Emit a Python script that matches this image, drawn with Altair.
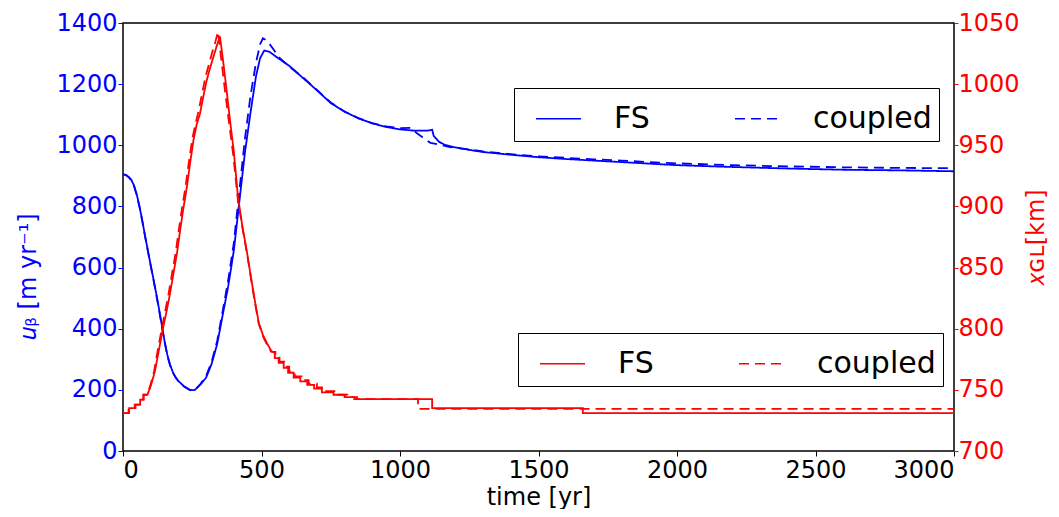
import altair as alt
import pandas as pd

SERIES = ["FS", "coupled"]
TIME_TICKS = [0, 500, 1000, 1500, 2000, 2500, 3000]
UB_TICKS = [0, 200, 400, 600, 800, 1000, 1200, 1400]
XGL_TICKS = [700, 750, 800, 850, 900, 950, 1000, 1050]

# basal velocity u_b [m/yr], (time, value)
UB_FS = [(0, 905), (10, 903), (20, 897), (30, 887), (40, 868), (50, 838), (60, 798), (70, 752),
         (80, 702), (90, 655), (100, 608), (110, 562), (120, 515), (130, 465), (140, 412),
         (150, 360), (160, 315), (170, 282), (180, 258), (190, 241), (200, 229), (220, 212),
         (240, 201), (250, 199), (260, 200), (280, 218), (300, 240), (320, 285), (340, 350),
         (360, 445), (380, 540), (400, 655), (420, 815), (440, 975), (460, 1105), (480, 1225),
         (495, 1285), (510, 1310), (530, 1305), (560, 1285), (600, 1260), (650, 1220), (700, 1180),
         (750, 1138), (800, 1110), (850, 1088), (900, 1072), (950, 1060), (1000, 1052),
         (1050, 1048), (1100, 1048), (1116, 1051), (1122, 1030), (1140, 1012), (1160, 1002),
         (1200, 993), (1250, 985), (1300, 978), (1400, 969), (1500, 961), (1600, 955), (1700, 950),
         (1800, 945), (1900, 940), (2000, 935), (2200, 929), (2400, 924), (2600, 920), (2800, 918),
         (3000, 915)]
UB_COUPLED = [(0, 905), (10, 903), (20, 896), (30, 886), (40, 866), (50, 836), (60, 796), (70, 750),
              (80, 700), (90, 653), (100, 606), (110, 560), (120, 512), (130, 462), (140, 409),
              (150, 357), (160, 312), (170, 280), (180, 256), (190, 240), (200, 228), (220, 211),
              (240, 200), (250, 198), (260, 200), (280, 220), (300, 245), (320, 292), (340, 360),
              (360, 458), (380, 560), (400, 680), (420, 850), (440, 1020), (460, 1160), (480, 1270),
              (495, 1330), (505, 1350), (515, 1345), (530, 1330), (545, 1312), (560, 1290),
              (600, 1258), (650, 1222), (700, 1181), (750, 1140), (800, 1110), (850, 1089),
              (900, 1072), (950, 1062), (1000, 1056), (1040, 1057), (1060, 1040), (1080, 1027),
              (1110, 1008), (1140, 1003), (1180, 994), (1250, 986), (1300, 980), (1400, 971),
              (1500, 964), (1600, 959), (1700, 954), (1800, 950), (1900, 945), (2000, 941),
              (2200, 935), (2400, 931), (2600, 928), (2800, 926), (3000, 925)]

# grounding line position x_GL [km], (time, value)
XGL_FS = [(0, 731), (22, 731), (22, 735), (45, 735), (45, 738), (62, 738), (62, 742), (75, 742),
          (75, 746), (88, 746), (100, 753), (115, 765), (130, 783), (144, 800), (158, 815),
          (170, 829), (182, 845), (195, 862), (206, 880), (217, 897), (230, 915), (242, 935),
          (255, 955), (266, 967), (278, 976), (290, 990), (302, 1003), (314, 1013), (326, 1022),
          (338, 1031), (350, 1039), (362, 1018), (374, 995), (386, 971), (400, 945), (415, 908),
          (430, 885), (448, 862), (462, 842), (476, 823), (490, 805), (505, 795), (520, 788),
          (535, 782), (548, 780), (548, 776), (562, 776), (562, 772), (580, 772), (580, 768),
          (596, 768), (596, 764), (616, 764), (616, 760), (640, 760), (640, 757), (665, 757),
          (665, 754), (690, 754), (690, 751), (718, 751), (718, 748), (760, 748), (760, 746),
          (800, 746), (800, 744), (835, 744), (835, 742.5), (1116, 742.5), (1116, 735),
          (1660, 735), (1660, 731), (3000, 731)]
XGL_COUPLED = [(0, 731), (20, 731), (20, 735), (42, 735), (42, 738), (60, 738), (60, 742), (73, 742),
               (73, 746), (86, 746), (98, 753), (112, 765), (126, 783), (140, 800), (153, 815),
               (165, 829), (177, 845), (190, 862), (201, 880), (212, 897), (225, 915), (237, 935),
               (250, 955), (262, 968), (274, 979), (286, 993), (298, 1006), (310, 1016), (322, 1026),
               (334, 1035), (343, 1043), (355, 1020), (368, 995), (382, 970), (398, 942), (414, 907),
               (430, 884), (448, 861), (462, 841), (476, 822), (490, 804), (505, 794), (520, 787),
               (535, 781), (550, 781), (550, 777), (565, 777), (565, 773), (582, 773), (582, 769),
               (600, 769), (600, 765), (620, 765), (620, 761), (645, 761), (645, 758), (670, 758),
               (670, 755), (700, 755), (700, 752), (730, 752), (730, 749), (770, 749), (770, 746),
               (810, 746), (810, 744), (845, 744), (845, 742.5), (1065, 742.5), (1065, 734.5),
               (3000, 734.5)]

BLUE = "#0000ff"
RED = "#ff0000"
FONT = "DejaVu Sans"


def frame(pairs, series, key):
    return pd.DataFrame({
        "time": [p[0] for p in pairs],
        key: [p[1] for p in pairs],
        "series": series,
        "order": list(range(len(pairs))),
    })


ub_df = pd.concat([frame(UB_FS, "FS", "ub"), frame(UB_COUPLED, "coupled", "ub")])
xgl_df = pd.concat([frame(XGL_FS, "FS", "xgl"), frame(XGL_COUPLED, "coupled", "xgl")])

x_enc = alt.X("time:Q", scale=alt.Scale(domain=[0, 3000], nice=False),
              axis=alt.Axis(values=TIME_TICKS, format="d", title="time [yr]", labelColor="black",
                            tickColor="black", tickSize=5, labelPadding=2, domain=False,
                            titleX=415.5, titleY=46, titleBaseline="middle", titleColor="black"))


def legend(x, y, color):
    return alt.Legend(title=None, orient="none", legendX=x, legendY=y, direction="horizontal",
                      columns=2, symbolType="stroke", symbolStrokeColor=color,
                      symbolStrokeWidth=1.5, symbolSize=2025, symbolOffset=14,
                      labelFontSize=30, labelFont=FONT, labelColor="black",
                      strokeColor="black", fillColor="white", padding=7,
                      columnPadding=70, labelOffset=32, cornerRadius=0, labelLimit=300)


blue = alt.Chart(ub_df).mark_line(color=BLUE, strokeWidth=1.8, clip=True).encode(
    x=x_enc,
    y=alt.Y("ub:Q", scale=alt.Scale(domain=[0, 1400], nice=False),
            axis=alt.Axis(orient="left", values=UB_TICKS, format="d", title="𝑢ᵦ [m yr⁻¹]",
                          labelColor=BLUE, tickColor=BLUE, tickSize=5, labelPadding=1,
                          titleColor=BLUE, domain=False, titleX=-95, titleY=253,
                          titleBaseline="middle")),
    strokeDash=alt.StrokeDash("series:N", scale=alt.Scale(domain=SERIES, range=[[1, 0], [10, 6]]),
                              legend=legend(391, 65, BLUE)),
    order=alt.Order("order:Q"),
)

red = alt.Chart(xgl_df).mark_line(color=RED, strokeWidth=1.8, clip=True).encode(
    x=x_enc,
    y=alt.Y("xgl:Q", scale=alt.Scale(domain=[700, 1050], nice=False),
            axis=alt.Axis(orient="right", values=XGL_TICKS, format="d", title="𝑥ɢʟ[km]",
                          labelColor=RED, tickColor=RED, tickSize=4, labelPadding=0,
                          titleColor=RED, domain=False, titleAngle=270, titleX=82, titleY=214,
                          titleBaseline="middle")),
    strokeDash=alt.StrokeDash("series:N", scale=alt.Scale(domain=SERIES, range=[[1, 0], [10, 6]]),
                              legend=legend(395, 310, RED)),
    order=alt.Order("order:Q"),
)

chart = alt.layer(blue, red).resolve_scale(
    y="independent", strokeDash="independent"
).resolve_legend(strokeDash="independent").properties(
    width=831, height=428,
    padding={"left": 115, "top": 15, "right": 97, "bottom": 58},
    autosize=alt.AutoSizeParams(type="none"),
).configure_view(stroke="black", strokeWidth=1.5).configure_axis(
    grid=False, labelFont=FONT, titleFont=FONT, labelFontSize=24, titleFontSize=24,
    titleFontWeight="normal",
)

chart.save("out.html", embed_options={"renderer": "svg", "actions": False})
